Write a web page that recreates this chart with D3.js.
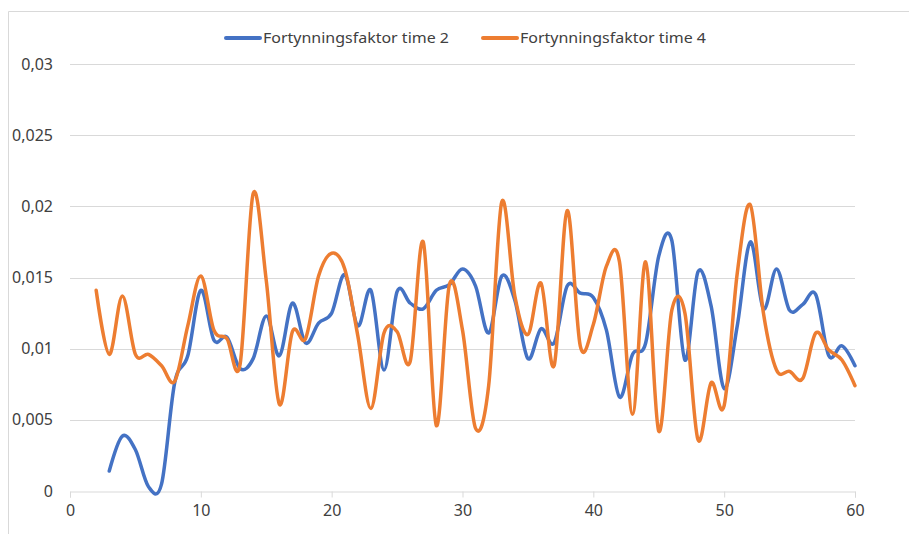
<!DOCTYPE html>
<meta charset="utf-8">
<head>
  <script src="https://cdn.jsdelivr.net/npm/d3@7"></script>
  <style>
    body { margin: 0; background: #fff; }
    .tick-label { font: 16px "Noto Sans", sans-serif; fill: #404040; }
    .legend-label { font: 15px "Noto Sans", sans-serif; fill: #404040; }
  </style>
</head>
<body>
<script type="text/javascript">

// data (x = sample number)
var xTime2 = d3.range(3, 61);
var time2 = [0.0014, 0.00385, 0.0029, 0.0003, 0.0005, 0.0076, 0.0095, 0.0141, 0.0106, 0.0108,
             0.0086, 0.0093, 0.0123, 0.0095, 0.0132, 0.0104, 0.0118, 0.0125, 0.0152, 0.0116,
             0.0141, 0.0085, 0.0140, 0.0132, 0.0128, 0.0141, 0.0145, 0.0156, 0.0144, 0.0111,
             0.0151, 0.0134, 0.0093, 0.0114, 0.0104, 0.0144, 0.0139, 0.0136, 0.0113, 0.0066,
             0.0096, 0.0104, 0.0165, 0.0176, 0.0092, 0.0154, 0.0130, 0.0072, 0.0116, 0.0175,
             0.0128, 0.0156, 0.0127, 0.0131, 0.0138, 0.0095, 0.0102, 0.0088];

var xTime4 = d3.range(2, 61);
var time4 = [0.0141, 0.0096, 0.0137, 0.0096, 0.0096, 0.0088, 0.0077, 0.0116, 0.0151, 0.0113,
             0.0107, 0.0089, 0.0209, 0.0148, 0.0061, 0.0112, 0.0107, 0.0151, 0.0167, 0.0156,
             0.0109, 0.0058, 0.0111, 0.0112, 0.0091, 0.0175, 0.0046, 0.0145, 0.0113, 0.0044,
             0.0074, 0.0203, 0.0137, 0.0110, 0.0146, 0.0088, 0.0197, 0.0102, 0.0117, 0.0158,
             0.0161, 0.0054, 0.0161, 0.0042, 0.0127, 0.0125, 0.0036, 0.0076, 0.0060, 0.0153,
             0.0201, 0.0125, 0.0085, 0.0084, 0.0079, 0.0111, 0.0099, 0.0092, 0.0074];

var seriesNames = ["Fortynningsfaktor time 2", "Fortynningsfaktor time 4"];
var seriesColors = ["#4472C4", "#ED7D31"];

var xTicks = [0, 10, 20, 30, 40, 50, 60];
var yTicks = [0, 0.005, 0.01, 0.015, 0.02, 0.025, 0.03];
var yTickLabels = ["0", "0,005", "0,01", "0,015", "0,02", "0,025", "0,03"];

var W = 909, H = 534;

var svg = d3.select("body").append("svg")
  .attr("width", W)
  .attr("height", H);

// chart frame
svg.append("path")
  .attr("d", "M8.5," + H + "V11.5H" + W)
  .attr("fill", "none")
  .attr("stroke", "#d9d9d9")
  .attr("stroke-width", 1);

var xScale = d3.scaleLinear().domain([0, 60]).range([70, 855]);
var yScale = d3.scaleLinear().domain([0, 0.03]).range([491, 64]);

// gridlines
svg.selectAll("line.grid")
  .data(yTicks.slice(1))
  .enter()
  .append("line")
  .attr("class", "grid")
  .attr("x1", xScale(0))
  .attr("x2", xScale(60))
  .attr("y1", function(d) { return Math.round(yScale(d)) + 0.5; })
  .attr("y2", function(d) { return Math.round(yScale(d)) + 0.5; })
  .attr("stroke", "#d9d9d9")
  .attr("stroke-width", 1);

// y labels
svg.selectAll("text.ylab")
  .data(yTicks)
  .enter()
  .append("text")
  .attr("class", "tick-label")
  .attr("x", 53)
  .attr("y", function(d) { return yScale(d); })
  .attr("dy", "0.35em")
  .attr("text-anchor", "end")
  .text(function(d, i) { return yTickLabels[i]; });

// x axis
var xAxis = d3.axisBottom(xScale)
  .tickValues(xTicks)
  .tickSize(6)
  .tickPadding(7)
  .tickFormat(d3.format("d"));

var gx = svg.append("g")
  .attr("transform", "translate(0," + (Math.round(yScale(0)) + 0.5) + ")")
  .call(xAxis);
gx.select(".domain").attr("stroke", "#d9d9d9");
gx.selectAll(".tick line").attr("stroke", "#d9d9d9");
gx.selectAll(".tick text")
  .attr("class", "tick-label")
  .style("font", "16px 'Noto Sans', sans-serif")
  .attr("fill", "#404040");

// lines
var line = d3.line()
  .x(function(d) { return xScale(d[0]); })
  .y(function(d) { return yScale(d[1]); })
  .curve(d3.curveCatmullRom.alpha(0));

var series = [
  xTime2.map(function(x, i) { return [x, time2[i]]; }),
  xTime4.map(function(x, i) { return [x, time4[i]]; })
];

svg.selectAll("path.series")
  .data(series)
  .enter()
  .append("path")
  .attr("class", "series")
  .attr("d", line)
  .attr("fill", "none")
  .attr("stroke", function(d, i) { return seriesColors[i]; })
  .attr("stroke-width", 3.5)
  .attr("stroke-linecap", "round")
  .attr("stroke-linejoin", "round");

// legend
var legendX = [226, 483];
var leg = svg.selectAll("g.legend")
  .data(seriesNames)
  .enter()
  .append("g")
  .attr("class", "legend")
  .attr("transform", function(d, i) { return "translate(" + legendX[i] + ",38)"; });

leg.append("line")
  .attr("x1", 0).attr("x2", 34)
  .attr("y1", 0).attr("y2", 0)
  .attr("stroke", function(d, i) { return seriesColors[i]; })
  .attr("stroke-width", 4)
  .attr("stroke-linecap", "round");

leg.append("text")
  .attr("class", "legend-label")
  .attr("x", 37)
  .attr("y", 0)
  .attr("dy", "0.35em")
  .attr("textLength", 186)
  .attr("lengthAdjust", "spacingAndGlyphs")
  .text(function(d) { return d; });

</script>
</body>
